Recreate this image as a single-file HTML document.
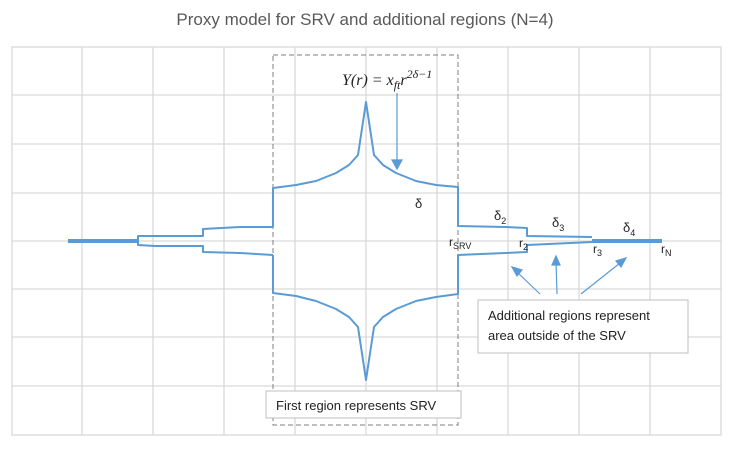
<!DOCTYPE html>
<html><head><meta charset="utf-8"><style>
html,body{margin:0;padding:0;background:#fff;width:731px;height:449px;overflow:hidden}
svg{display:block;font-family:"Liberation Sans",sans-serif}
</style></head><body>
<svg width="731" height="449" viewBox="0 0 731 449" xmlns="http://www.w3.org/2000/svg">
<rect width="731" height="449" fill="#fff"/>
<text x="365" y="25" text-anchor="middle" font-size="17" fill="#595959">Proxy model for SRV and additional regions (N=4)</text>
<g stroke="#d9d9d9" stroke-width="1.3" fill="none">
<rect x="12" y="47" width="709" height="388"/>
<path d="M82 47V435M153 47V435M224 47V435M295 47V435M366 47V435M437 47V435M508 47V435M579 47V435M650 47V435"/>
<path d="M12 95H721M12 144H721M12 193H721M12 241H721M12 289H721M12 337H721M12 386H721"/>
</g>
<rect x="273" y="55" width="185" height="370" fill="none" stroke="#7f7f7f" stroke-width="1" stroke-dasharray="5,3"/>
<g stroke="#5b9bd5" stroke-width="2" fill="none" stroke-linejoin="round">
<path d="M273 227V188L296 185L316 181L336 173L349 165L358 155L366 102L374 155L383 165L396 173L416 181L436 185L458 187V226L505 227L527 228V236L592 237"/>
<path d="M273 255V293L296 296L316 301L336 309L349 317L358 327L366 380L374 327L383 317L396 309L416 301L436 297L458 294V255L505 253L527 252V245L592 242"/>
<path d="M138 241V236H203V229L240 227L273 227"/>
<path d="M138 241V245L155 246H203V252L240 253L273 255"/>
</g>
<path d="M68 241H138M592 241H662" stroke="#5b9bd5" stroke-width="4"/>
<g stroke="#5b9bd5" stroke-width="1.2" fill="#5b9bd5">
<path d="M397 93V162" fill="none"/>
<path d="M392 160L397 169L402 160Z"/>
<path d="M540 294L517 272" fill="none"/><path d="M512 267L522 270L517 276Z"/>
<path d="M557 294L556 262" fill="none"/><path d="M556 256L552 265L560 265Z"/>
<path d="M581 294L620 263" fill="none"/><path d="M626 258L616 261L621 267Z"/>
</g>
<text x="342" y="85" font-family="Liberation Serif,serif" font-style="italic" font-size="16" fill="#222">Y(r) = x<tspan font-size="12" dy="4">ft</tspan><tspan dy="-4">r</tspan><tspan font-size="12" dy="-7">2δ−1</tspan></text>
<g font-size="13" fill="#222">
<text x="415" y="208">δ</text>
<text x="494" y="220">δ<tspan font-size="9" dy="4">2</tspan></text>
<text x="552" y="227">δ<tspan font-size="9" dy="4">3</tspan></text>
<text x="623" y="232">δ<tspan font-size="9" dy="4">4</tspan></text>
<text x="449" y="246" font-size="12">r<tspan font-size="9" dy="3">SRV</tspan></text>
<text x="519" y="247" font-size="12">r<tspan font-size="9" dy="3">2</tspan></text>
<text x="593" y="253" font-size="12">r<tspan font-size="9" dy="3">3</tspan></text>
<text x="661" y="253" font-size="12">r<tspan font-size="9" dy="3">N</tspan></text>
</g>
<rect x="266" y="391" width="195" height="27" fill="#fff" stroke="#bfbfbf"/>
<text x="276" y="410" font-size="13" fill="#222">First region represents SRV</text>
<rect x="478" y="300" width="210" height="53" fill="#fff" stroke="#bfbfbf"/>
<text x="488" y="320" font-size="13" fill="#222">Additional regions represent</text>
<text x="488" y="340" font-size="13" fill="#222">area outside of the SRV</text>
</svg>
</body></html>
